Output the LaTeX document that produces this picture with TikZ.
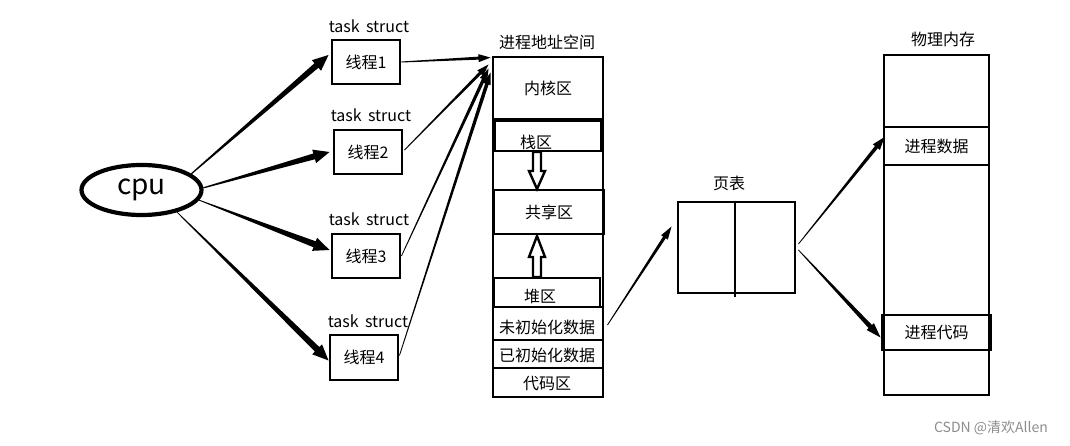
\documentclass[tikz,border=0pt]{standalone}
\usepackage{fontspec}
\setmainfont{Noto Sans CJK SC}
\usetikzlibrary{calc,shapes.geometric}
\newcommand\tarrow[6]{%
  \path (#1) coordinate (ta) (#2) coordinate (tb) ($(tb)!#6!(ta)$) coordinate (hb);
  \fill ($(ta)!#3!90:(tb)$) -- ($(hb)!#4!-90:(ta)$) -- ($(hb)!#5!-90:(ta)$) -- (tb)
     -- ($(hb)!#5!90:(ta)$) -- ($(hb)!#4!90:(ta)$) -- ($(ta)!#3!-90:(tb)$) -- cycle;}
\begin{document}
\begin{tikzpicture}[x=1pt,y=-1pt,
  txt/.style={font=\fontsize{16}{19}\selectfont, inner sep=0},
  box/.style={draw, line width=2.9pt, inner sep=0, font=\fontsize{16}{19}\selectfont},
  thr/.style={box, minimum width=68, minimum height=44},
  hollowarrow/.style={draw, line width=2.4pt, fill=white}]
\useasboundingbox (0,0) rectangle (1070,446);
% cpu
\node[ellipse, draw, line width=4.2pt, minimum width=120, minimum height=50, inner sep=0,
  font=\fontsize{28}{30}\selectfont] (cpu) at (141.5,190) {cpu};
% threads
\node[thr] (t1) at (366,62) {线程1};
\node[thr] (t2) at (368,152) {线程2};
\node[thr] (t3) at (366,256) {线程3};
\node[thr, minimum height=45] (t4) at (364,357.5) {线程4};
\node[txt] (l1) at (369,26) {task\, struct};
\node[txt] (l2) at (371,115) {task\, struct};
\node[txt] (l3) at (369,219) {task\, struct};
\node[txt] (l4) at (368,321) {task\, struct};
% address space
\node[box, minimum width=110, minimum height=340] (as) at (548,227) {};
\node[txt] (asl) at (547,42) {进程地址空间};
\node[box, minimum width=110, minimum height=62] (kern) at (548,88) {内核区};
\node[box, minimum width=106, minimum height=30] (stack) at (548,136) {};
\node[txt] (stackt) at (536,142) {栈区};
\node[box, minimum width=110, minimum height=44] (shared) at (549,212) {共享区};
\node[box, minimum width=106, minimum height=29] (heap) at (547,292.5) {};
\node[txt] (heapt) at (540,296) {堆区};
\node[box, minimum width=110, minimum height=33] (uninit) at (548,323.5) {};
\node[txt] (uninitt) at (547,327) {未初始化数据};
\node[box, minimum width=110, minimum height=28] (init) at (548,354) {};
\node[txt] (initt) at (547,355) {已初始化数据};
\node[box, minimum width=110, minimum height=29] (code) at (548,382.5) {};
\node[txt] (codet) at (547,384) {代码区};
% hollow block arrows
\draw[hollowarrow] (533,152) -- (533,171) -- (529,171) -- (537,189) -- (545,171) -- (541,171) -- (541,152) -- cycle;
\draw[hollowarrow] (533,277) -- (533,257) -- (529,257) -- (537,236) -- (545,257) -- (541,257) -- (541,277) -- cycle;
% page table
\node[box, minimum width=117, minimum height=91] (pt) at (736.5,247.5) {};
\node[txt] (ptl) at (729,183) {页表};
\draw[line width=2.9pt] (pt.north) ++(-1.5,0) coordinate (ptd) -- ($(pt.south)+(-1.5,3)$);
% physical memory
\node[box, minimum width=105, minimum height=340] (pm) at (936.5,225) {};
\node[txt] (pml) at (943,39) {物理内存};
\node[box, minimum width=105, minimum height=38] (pd) at (936.5,146) {进程数据};
\node[box, minimum width=109, minimum height=35] (pc) at (936.5,332.5) {进程代码};
% cpu -> threads
\tarrow{cpu.18}{$(t1.west)+(-2,-7)$}{0.6pt}{3pt}{7pt}{16pt}
\tarrow{cpu.2}{$(t2.west)+(-3,0)$}{0.6pt}{3pt}{7pt}{16pt}
\tarrow{cpu.-10}{$(t3.west)+(-1,-6)$}{0.4pt}{3.2pt}{7pt}{16pt}
\tarrow{cpu.-32}{$(t4.west)+(0,3)$}{0.4pt}{3.2pt}{7pt}{16pt}
% threads -> address space
\tarrow{t1.east}{$(as.north west)+(-1,2)$}{0.5pt}{1.5pt}{4pt}{12pt}
\tarrow{$(t2.east)+(1,-2)$}{$(as.north west)+(-3,9)$}{0.4pt}{1.5pt}{4pt}{12pt}
\tarrow{t3.east}{$(as.north west)+(-3,13)$}{0.4pt}{1.7pt}{4pt}{12pt}
\tarrow{$(t4.east)+(0,-2)$}{$(as.north west)+(-1,17)$}{0.4pt}{1.8pt}{4pt}{12pt}
% address space -> page table -> memory
\tarrow{$(uninit.east)+(3,1.5)$}{$(pt.west)+(-5,-21)$}{0.4pt}{1.6pt}{4pt}{13pt}
\tarrow{$(pt.east)+(2,-3.5)$}{$(pd.west)+(2,-9)$}{0.4pt}{1.8pt}{4.5pt}{13pt}
\tarrow{$(pt.east)+(2,2.5)$}{$(pc.west)+(0,5)$}{0.4pt}{2.3pt}{5pt}{15pt}
% watermark
\node[font=\fontsize{14}{16}\selectfont, text=black!45, inner sep=0] (wm) at (991,428) {CSDN @清欢Allen};
\end{tikzpicture}
\end{document}
